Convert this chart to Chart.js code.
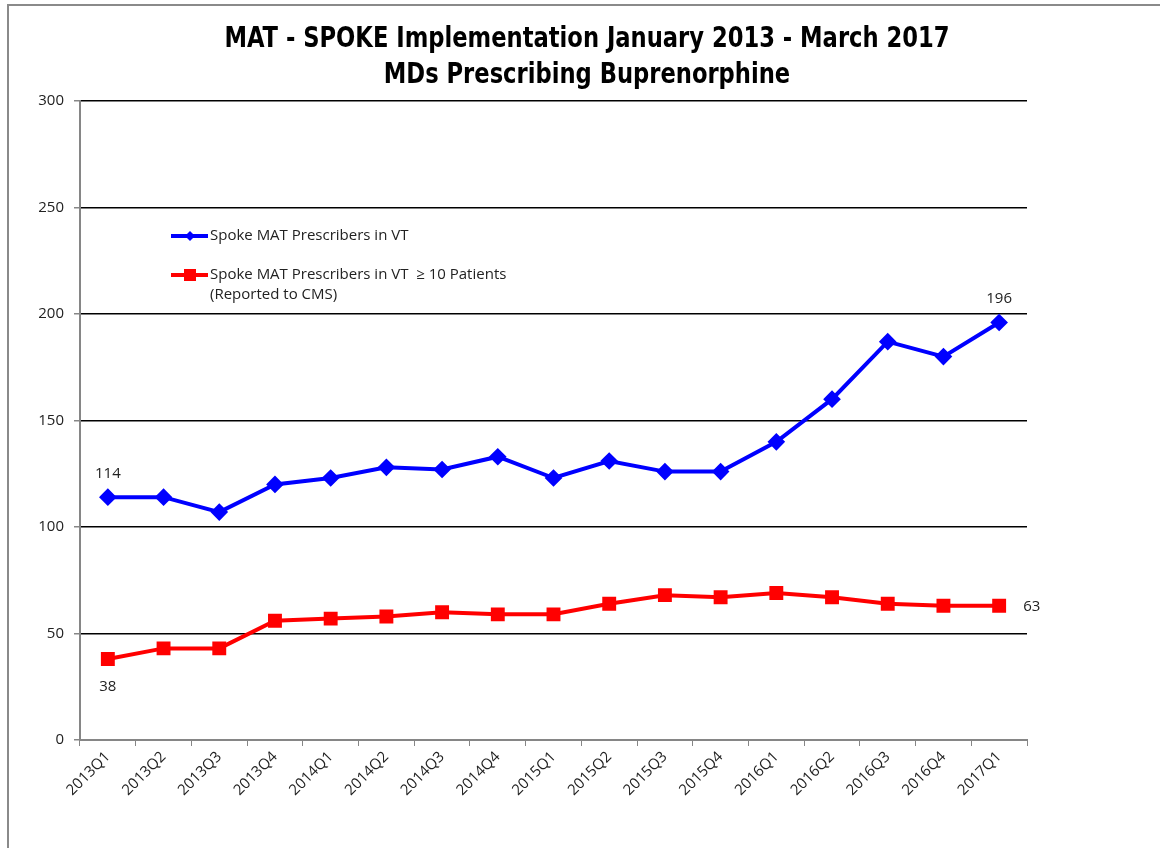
<!DOCTYPE html>
<html>
<head>
<meta charset="utf-8">
<script src="https://cdn.jsdelivr.net/npm/chart.js@4.4.1/dist/chart.umd.min.js"></script>
<style>
  html, body { margin: 0; padding: 0; background: #fff; }
  #frame {
    position: absolute; left: 7px; top: 4px; width: 1170px; height: 900px;
    border: 2px solid #8a8a8a; box-sizing: border-box;
  }
  #wrap { position: absolute; left: 0; top: 0; width: 1160px; height: 848px; }
</style>
</head>
<body>
<div id="frame"></div>
<div id="wrap"><canvas id="matChart" width="1160" height="848"></canvas></div>
<script>
// data
const quarters = ['2013Q1', '2013Q2', '2013Q3', '2013Q4', '2014Q1', '2014Q2', '2014Q3', '2014Q4',
  '2015Q1', '2015Q2', '2015Q3', '2015Q4', '2016Q1', '2016Q2', '2016Q3', '2016Q4', '2017Q1']
const allPrescribers = [114, 114, 107, 120, 123, 128, 127, 133, 123, 131, 126, 126, 140, 160, 187, 180, 196]
const tenPlusPrescribers = [38, 43, 43, 56, 57, 58, 60, 59, 59, 64, 68, 67, 69, 67, 64, 63, 63]
const yTicks = [0, 50, 100, 150, 200, 250, 300]
const titleLines = ['MAT - SPOKE Implementation January 2013 - March 2017', 'MDs Prescribing Buprenorphine']
const seriesNames = ['Spoke MAT Prescribers in VT', ['Spoke MAT Prescribers in VT  \u2265 10 Patients', '(Reported to CMS)']]

const bodyFont = "'Open Sans', 'Liberation Sans', sans-serif"
const titleFont = "bold 29px 'Liberation Sans Narrow', 'DejaVu Sans Condensed', sans-serif"
const axisGray = '#868686'

// title (squeezed like the Calibri original), end labels, legend inside the plot
const extrasPlugin = {
  id: 'extras',
  afterDraw(chart) {
    const c = chart.ctx
    c.save()
    c.font = titleFont
    c.fillStyle = '#000'
    c.textAlign = 'center'
    c.textBaseline = 'middle'
    const squeeze = 725 / c.measureText(titleLines[0]).width
    c.translate(587, 0)
    c.scale(squeeze, 1)
    c.fillText(titleLines[0], 0, 39)
    c.fillText(titleLines[1], 0, 75)
    c.restore()
  },
  afterDatasetsDraw(chart) {
    const c = chart.ctx
    const metaBlue = chart.getDatasetMeta(0).data
    const metaRed = chart.getDatasetMeta(1).data
    c.save()
    c.font = '15px ' + bodyFont
    c.fillStyle = '#222'
    c.textAlign = 'center'
    c.textBaseline = 'middle'
    c.fillText(allPrescribers[0], metaBlue[0].x, metaBlue[0].y - 23)
    const lb = metaBlue.length - 1
    c.fillText(allPrescribers[lb], metaBlue[lb].x, metaBlue[lb].y - 24)
    c.fillText(tenPlusPrescribers[0], metaRed[0].x, metaRed[0].y + 28)
    const lr = metaRed.length - 1
    c.textAlign = 'left'
    c.fillText(tenPlusPrescribers[lr], metaRed[lr].x + 24, metaRed[lr].y + 1)

    // legend
    const rows = [
      { y: 236, color: '#0000ff', shape: 'diamond' },
      { y: 275, color: '#ff0000', shape: 'square' }
    ]
    rows.forEach((r, i) => {
      c.strokeStyle = r.color
      c.fillStyle = r.color
      c.lineWidth = 4
      c.beginPath()
      c.moveTo(171, r.y)
      c.lineTo(208, r.y)
      c.stroke()
      c.beginPath()
      if (r.shape === 'diamond') {
        c.moveTo(190, r.y - 5); c.lineTo(195, r.y); c.lineTo(190, r.y + 5); c.lineTo(185, r.y)
        c.closePath()
        c.fill()
      } else {
        c.fillRect(184, r.y - 6, 12, 12)
      }
      c.fillStyle = '#222'
      c.textAlign = 'left'
      c.font = '15px ' + bodyFont
      const name = seriesNames[i]
      const lines = Array.isArray(name) ? name : [name]
      lines.forEach((t, k) => c.fillText(t, 210, r.y + k * 20))
    })
    c.restore()
  }
}

const ctx = document.getElementById('matChart').getContext('2d')
const matChart = new Chart(ctx, {
  type: 'line',
  data: {
    labels: quarters,
    datasets: [
      {
        label: 'Spoke MAT Prescribers in VT',
        data: allPrescribers,
        borderColor: '#0000ff',
        backgroundColor: '#0000ff',
        borderWidth: 4,
        pointStyle: 'rectRot',
        pointRadius: 6,
        pointHoverRadius: 6,
        tension: 0,
        fill: false
      },
      {
        label: 'Spoke MAT Prescribers in VT \u2265 10 Patients (Reported to CMS)',
        data: tenPlusPrescribers,
        borderColor: '#ff0000',
        backgroundColor: '#ff0000',
        borderWidth: 4,
        pointStyle: 'rect',
        pointRadius: 7,
        pointHoverRadius: 7,
        tension: 0,
        fill: false
      }
    ]
  },
  options: {
    responsive: false,
    animation: false,
    layout: {
      padding: { top: 101, right: 133, bottom: 0, left: 0 }
    },
    plugins: {
      legend: { display: false },
      tooltip: { enabled: false },
      title: { display: false }
    },
    scales: {
      x: {
        offset: true,
        grid: {
          offset: true,
          drawOnChartArea: false,
          tickLength: 6,
          tickColor: axisGray,
          color: axisGray
        },
        border: { color: axisGray, width: 2 },
        ticks: {
          minRotation: 45,
          maxRotation: 45,
          color: '#222',
          font: { family: bodyFont, size: 15 },
          padding: 2
        },
        afterFit(scale) { scale.height = 108 }
      },
      y: {
        min: 0,
        max: 300,
        afterBuildTicks(scale) { scale.ticks = yTicks.map(v => ({ value: v })) },
        grid: {
          color: (c) => c.tick && c.tick.value === 0 ? 'rgba(0,0,0,0)' : '#000',
          lineWidth: 1.5,
          tickLength: 6,
          tickColor: axisGray
        },
        border: { color: axisGray, width: 2 },
        ticks: {
          color: '#222',
          font: { family: bodyFont, size: 15 },
          padding: 10
        },
        afterFit(scale) { scale.width = 80 }
      }
    }
  },
  plugins: [extrasPlugin]
})
</script>
</body>
</html>
